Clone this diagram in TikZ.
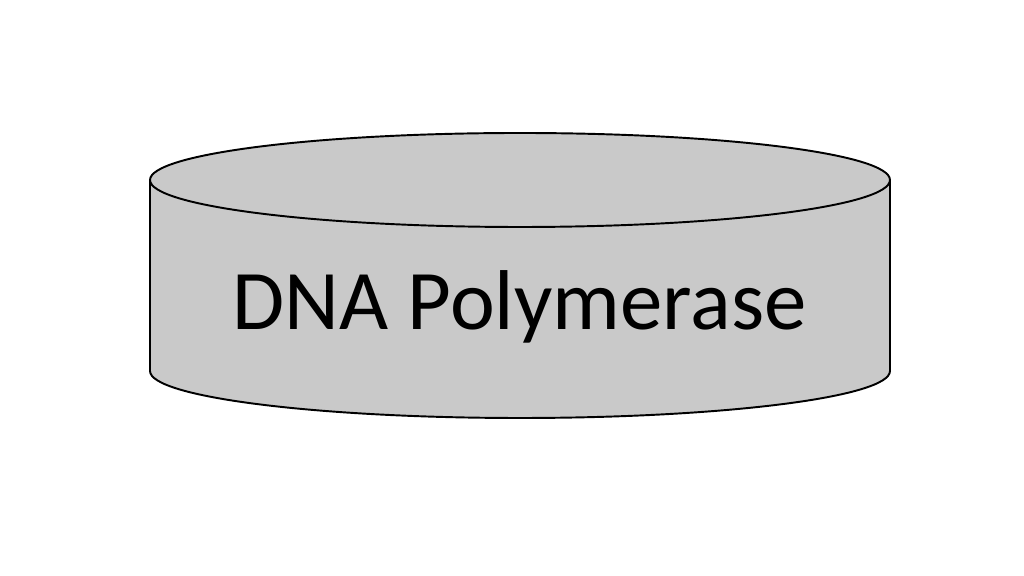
\documentclass[tikz,border=0pt]{standalone}
\usepackage{fontspec}
\setmainfont{Carlito}
\usepackage{tikz}

\begin{document}
\begin{tikzpicture}[thick]
		\useasboundingbox (0,0) rectangle (20.48,11.52);
		\tikzset{disc/.style={draw=black, line width=1.1pt, fill=black!21}}
		% body of the cylinder
		\draw[disc] (3.0,7.92) -- (3.0,4.10) arc[start angle=180, end angle=360, x radius=7.4cm, y radius=0.94cm] -- (17.8,7.92) -- cycle;
		% top face
		\draw[disc] (10.4,7.92) ellipse [x radius=7.4cm, y radius=0.94cm];
		\node (label) [anchor=base, font=\fontsize{48.3}{58}\selectfont] at (10.39,4.92) {DNA Polymerase};
	\end{tikzpicture}
\end{document}
